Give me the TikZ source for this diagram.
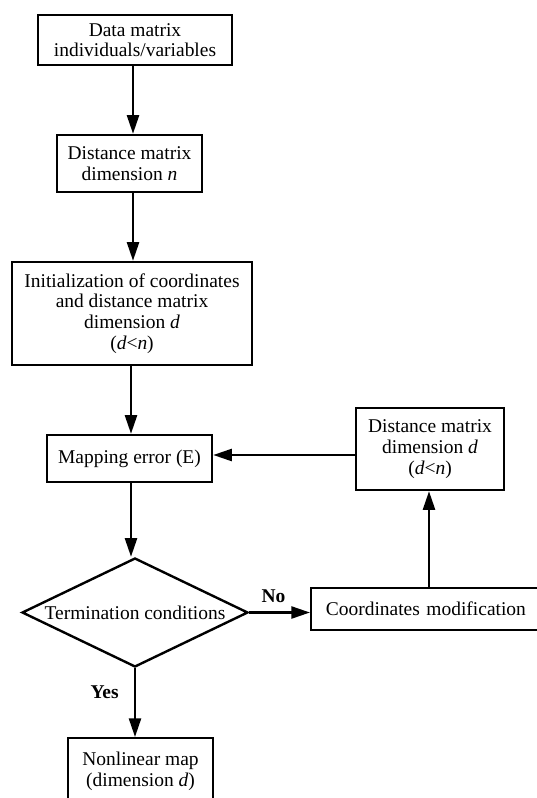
\documentclass[tikz,border=0pt]{standalone}
\usepackage{fontspec}
\setmainfont{Liberation Serif}
\usetikzlibrary{shapes.geometric, arrows.meta, positioning}

\begin{document}
\begin{tikzpicture}[x=0.75pt, y=-0.75pt,
        font=\fontsize{14.6}{15.5}\selectfont,
        box/.style={draw=black, fill=white, line width=1.8pt, align=center, inner sep=2pt},
        decision/.style={diamond, draw=black, fill=white, line width=1.8pt, aspect=2.07, inner sep=0pt, align=center},
        arr/.style={-{Triangle[length=14pt, width=9pt]}, line width=1.8pt},
        lbl/.style={font=\fontsize{14.6}{15.5}\selectfont\bfseries}
    ]
        \useasboundingbox (0,0) rectangle (536,798);

        % MAIN COLUMN
        \node[box, minimum width=194*0.75pt, minimum height=50*0.75pt] (data) at (135,40) {Data matrix\\individuals/variables};
        \node[box, minimum width=145*0.75pt, minimum height=57*0.75pt] (distn) at (129.5,163.5) {Distance matrix\\dimension \textit{n}};
        \node[box, minimum width=240*0.75pt, minimum height=103*0.75pt] (init) at (132,313.5) {Initialization of coordinates\\and distance matrix\\dimension \textit{d}\\(\textit{d}<\textit{n})};
        \node[box, minimum width=165*0.75pt, minimum height=47*0.75pt] (maperr) at (129.5,458.5) {Mapping error (E)};
        \node[decision, minimum width=226*0.75pt, minimum height=109*0.75pt] (term) at (135,612.5) {Termination conditions};
        \node[box, minimum width=145*0.75pt, minimum height=66*0.75pt, anchor=north] (nonlin) at (140.5,737) {Nonlinear map\\(dimension \textit{d})};

        % FEEDBACK LOOP
        \node[box, minimum width=148*0.75pt, minimum height=82*0.75pt] (distd) at (430,449) {Distance matrix\\dimension \textit{d}\\(\textit{d}<\textit{n})};
        \node[box, text width=230*0.75pt, inner xsep=11pt, align=left, minimum height=42*0.75pt, anchor=west] (coord) at (310,609) {Coordinates modification};

        % CONNECTORS
        \draw[arr] (data.south -| 133,0) -- (distn.north -| 133,0);
        \draw[arr] (distn.south -| 133,0) -- (init.north -| 133,0);
        \draw[arr] (init.south -| 131,0) -- (maperr.north -| 131,0);
        \draw[arr] (maperr.south -| 131,0) -- (term.north -| 131,0);
        \draw[arr] (term.east) -- node[lbl, above=3pt, pos=0.4] {No} (coord.west |- term.east);
        \draw[arr] (term.south) -- node[lbl, left=8pt, pos=0.35] {Yes} (nonlin.north -| term.south);
        \draw[arr] (coord.north -| 429,0) -- (distd.south -| 429,0);
        \draw[arr] (distd.west |- 0,455) -- (maperr.east |- 0,455);
    \end{tikzpicture}
\end{document}
